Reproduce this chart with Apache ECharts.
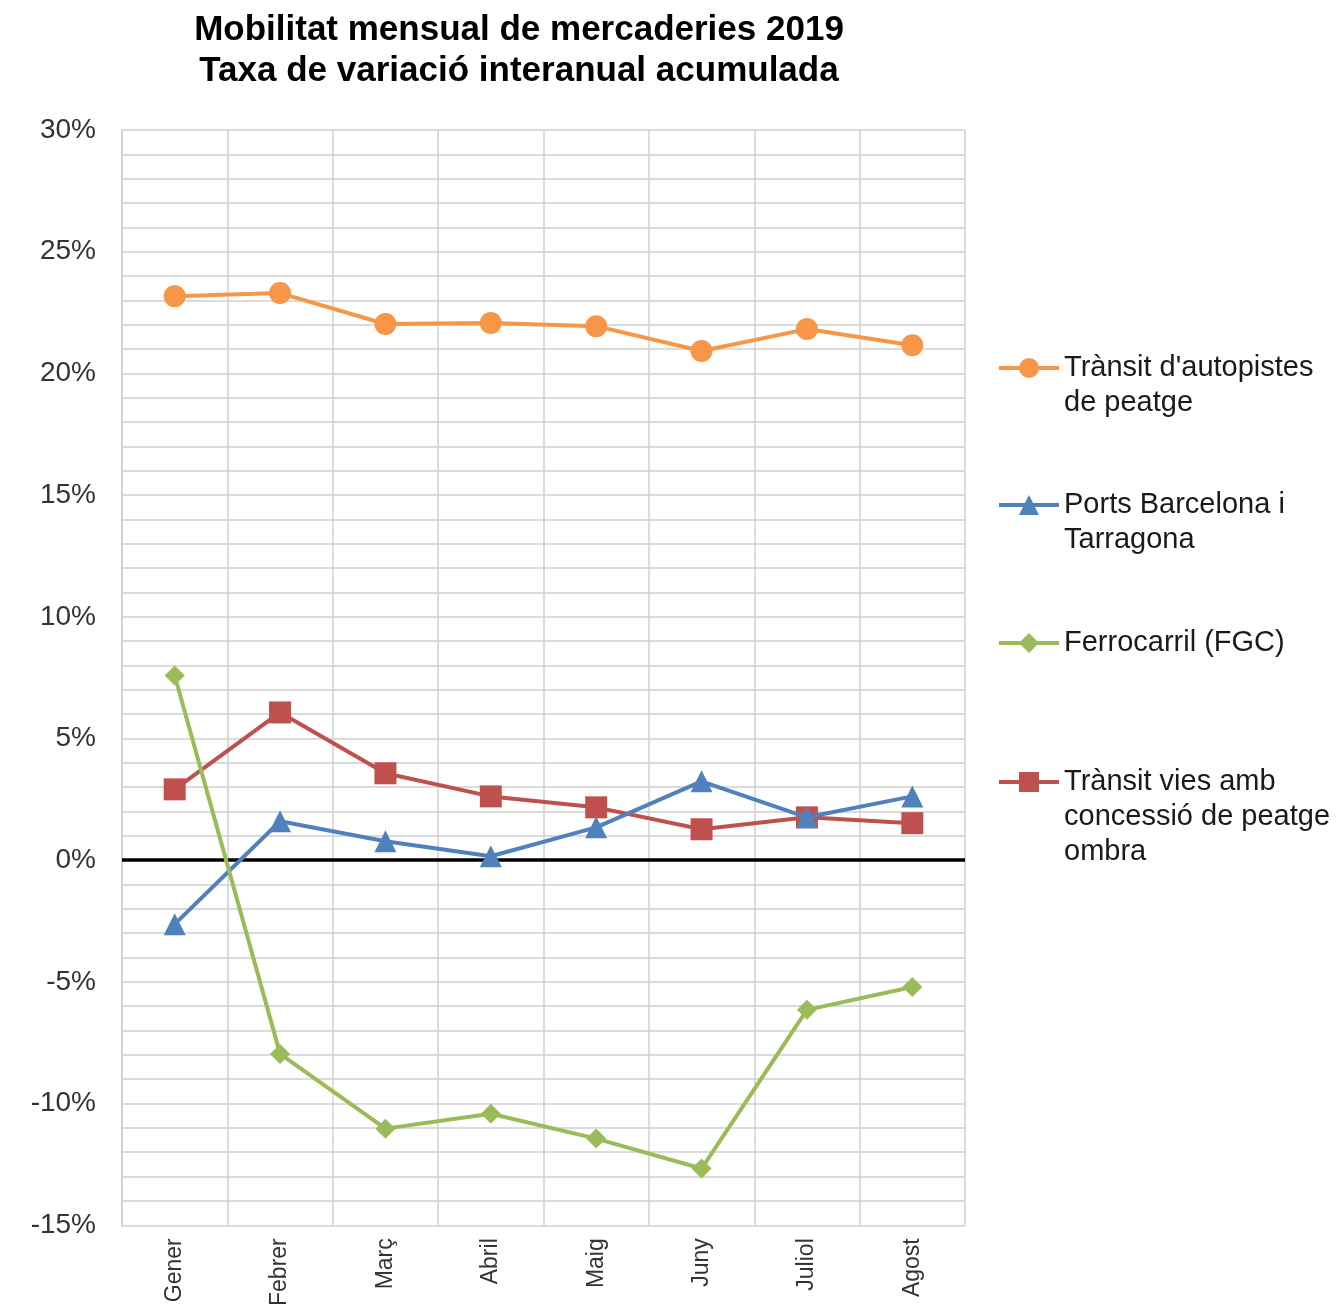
<!DOCTYPE html>
<html><head><meta charset="utf-8">
<script src="https://cdn.jsdelivr.net/npm/echarts@6/dist/echarts.min.js"></script>
<style>html,body{margin:0;padding:0;background:#fff}#c{width:1344px;height:1309px}</style>
</head><body><div id="c"></div>
<script>
const months = ['Gener','Febrer','Març','Abril','Maig','Juny','Juliol','Agost'];
const autopistes = [23.17, 23.3, 22.03, 22.07, 21.94, 20.92, 21.82, 21.16];
const ports = [-2.63, 1.6, 0.78, 0.16, 1.35, 3.24, 1.76, 2.62];
const ferrocarril = [7.59, -7.96, -11.03, -10.42, -11.44, -12.67, -6.15, -5.21];
const ombra = [2.91, 6.07, 3.57, 2.62, 2.17, 1.27, 1.76, 1.52];
const names = ["Trànsit d'autopistes\nde peatge", "Ports Barcelona i\nTarragona", "Ferrocarril (FGC)", "Trànsit vies amb\nconcessió de peatge\nombra"];

const chart = echarts.init(document.getElementById('c'));
const font = 'Liberation Sans, Arial, sans-serif';
const LH = 35;
function mkLegend(name, iconY) {
  const n = name.split('\n').length;
  const total = 2 * n - 1;
  return {
    left: 997, top: iconY - total * LH / 2, orient: 'vertical', padding: 0,
    itemWidth: 60, itemHeight: 25, itemGap: 0,
    data: [name],
    formatter: function (nm) { return '\n'.repeat(nm.split('\n').length - 1) + nm; },
    lineStyle: {width: 4},
    textStyle: {fontFamily: font, fontSize: 29, lineHeight: LH, color: '#1a1a1a'}
  };
}
chart.setOption({
  animation: false,
  backgroundColor: '#fff',
  title: {
    text: 'Mobilitat mensual de mercaderies 2019\nTaxa de variació interanual acumulada',
    left: 514, textAlign: 'center', top: 5,
    textStyle: {fontFamily: font, fontSize: 35, fontWeight: 'bold', lineHeight: 41, color: '#000'}
  },
  legend: [
    mkLegend(names[0], 368),
    mkLegend(names[1], 505),
    mkLegend(names[2], 643),
    mkLegend(names[3], 782)
  ],
  grid: {left: 122, right: 379, top: 130, bottom: 82},
  xAxis: {
    type: 'category', data: months, boundaryGap: true,
    axisLine: {lineStyle: {color: '#d0d0d0', width: 1.5}},
    axisTick: {show: false},
    splitLine: {show: true, lineStyle: {color: '#d0d0d0', width: 1.5}},
    axisLabel: {rotate: 90, margin: 13, fontFamily: font, fontSize: 23, color: '#333'}
  },
  yAxis: {
    type: 'value', min: -15, max: 30, interval: 5,
    axisLine: {show: true, lineStyle: {color: '#d0d0d0', width: 1.5}},
    axisTick: {show: false},
    splitLine: {lineStyle: {color: '#d0d0d0', width: 1.5}},
    minorTick: {show: false, splitNumber: 5},
    minorSplitLine: {show: true, lineStyle: {color: '#d0d0d0', width: 1.5}},
    axisLabel: {formatter: '{value}%', margin: 26, fontFamily: font, fontSize: 28, color: '#333'}
  },
  series: [
    {name: names[0], type: 'line', data: autopistes, color: '#F79646', symbol: 'circle', symbolSize: 22,
     lineStyle: {width: 4}, z: 5},
    {name: names[1], type: 'line', data: ports, color: '#4F81BD', symbol: 'triangle', symbolSize: 22,
     lineStyle: {width: 4}, z: 5},
    {name: names[2], type: 'line', data: ferrocarril, color: '#9BBB59', symbol: 'diamond', symbolSize: 20,
     lineStyle: {width: 4}, z: 5},
    {name: names[3], type: 'line', data: ombra, color: '#C0504D', symbol: 'rect', symbolSize: 22,
     lineStyle: {width: 4}, z: 4,
     markLine: {silent: true, symbol: 'none', label: {show: false}, z: 3,
       lineStyle: {color: '#000', width: 3.5, type: 'solid'}, data: [{yAxis: 0}]}}
  ]
});
</script></body></html>
